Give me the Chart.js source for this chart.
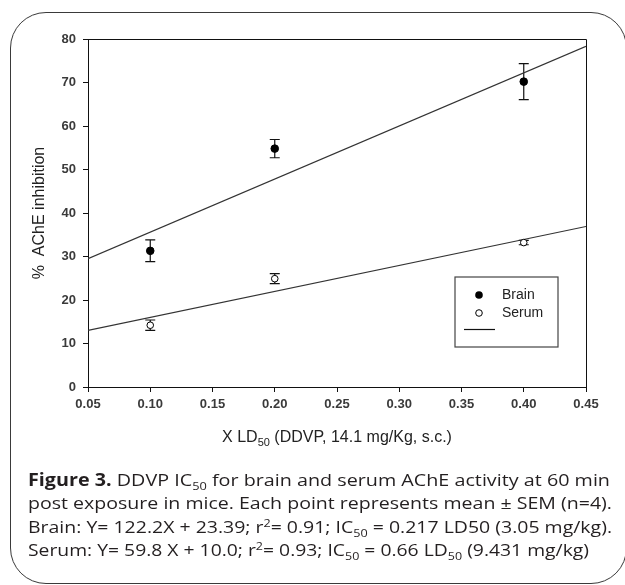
<!DOCTYPE html>
<html>
<head>
<meta charset="utf-8">
<script src="https://cdn.jsdelivr.net/npm/chart.js@4.4.1/dist/chart.umd.min.js"></script>
<style>
  html, body { margin: 0; padding: 0; background: #fff; overflow: hidden; }
  #wrap { position: relative; width: 625px; height: 585px; overflow: hidden; }
  #frame { position: absolute; left: 10px; top: 12px; width: 617px; height: 572px;
           border: 1.5px solid #3a3a3a; border-radius: 36px; box-sizing: border-box; }
  canvas { position: absolute; left: 0; top: 0; }
  .cap { position: absolute; left: 28px; font-family: "Open Sans", "Noto Sans", sans-serif;
         font-size: 17px; color: #231f20; white-space: nowrap; line-height: 20px;
         transform-origin: left center; }
  .cap b { font-weight: 700; }
  .cap sub { font-size: 11px; vertical-align: -4px; line-height: 0; }
  .cap sup { font-size: 11px; vertical-align: 6px; line-height: 0; }
</style>
</head>
<body>
<div id="wrap">
  <div id="frame"></div>
  <canvas id="c" width="625" height="585"></canvas>
  <div class="cap" id="l1" data-w="582" style="top:470px"><b>Figure 3.</b> DDVP IC<sub>50</sub> for brain and serum AChE activity at 60 min</div>
  <div class="cap" id="l2" data-w="584" style="top:493px">post exposure in mice. Each point represents mean ± SEM (n=4).</div>
  <div class="cap" id="l3" data-w="584" style="top:517px">Brain: Y= 122.2X + 23.39; r<sup>2</sup>= 0.91; IC<sub>50</sub> = 0.217 LD50 (3.05 mg/kg).</div>
  <div class="cap" id="l4" data-w="561" style="top:540px">Serum: Y= 59.8 X + 10.0; r<sup>2</sup>= 0.93; IC<sub>50</sub> = 0.66 LD<sub>50</sub> (9.431 mg/kg)</div>
</div>
<script>
// ---- data ----
const xTicks = [0.05, 0.10, 0.15, 0.20, 0.25, 0.30, 0.35, 0.40, 0.45];
const yTicks = [0, 10, 20, 30, 40, 50, 60, 70, 80];
const doses = [0.1, 0.2, 0.4];
const brainMean = [31.3, 54.8, 70.2];
const brainSem = [2.5, 2.1, 4.15];
const serumMean = [14.2, 24.9, 33.2];
const serumSem = [1.2, 1.15, 0.5];
const fitX = [0.05, 0.45];
const brainFit = [29.5, 78.3];
const serumFit = [13.0, 36.9];

const pts = (xs, ys) => xs.map((x, i) => ({ x: x, y: ys[i] }));

const errorBars = {
  id: 'errorBars',
  beforeDatasetsDraw(chart) {
    const ctx = chart.ctx, xs = chart.scales.x, ys = chart.scales.y;
    const sets = [[brainMean, brainSem], [serumMean, serumSem]];
    ctx.save();
    ctx.strokeStyle = '#111';
    ctx.lineWidth = 1.2;
    sets.forEach(([m, s]) => {
      doses.forEach((d, i) => {
        const px = xs.getPixelForValue(d);
        const top = ys.getPixelForValue(m[i] + s[i]);
        const bot = ys.getPixelForValue(m[i] - s[i]);
        ctx.beginPath();
        ctx.moveTo(px, top); ctx.lineTo(px, bot);
        ctx.moveTo(px - 5, top); ctx.lineTo(px + 5, top);
        ctx.moveTo(px - 5, bot); ctx.lineTo(px + 5, bot);
        ctx.stroke();
      });
    });
    ctx.restore();
  }
};

const decor = {
  id: 'decor',
  afterDraw(chart) {
    const ctx = chart.ctx, a = chart.chartArea;
    ctx.save();
    // top & right frame of plot area
    ctx.strokeStyle = '#111';
    ctx.lineWidth = 1;
    ctx.beginPath();
    ctx.moveTo(a.left, a.top + 0.5); ctx.lineTo(a.right + 0.5, a.top + 0.5); ctx.lineTo(a.right + 0.5, a.bottom);
    ctx.stroke();

    // y axis title
    ctx.fillStyle = '#222';
    ctx.font = '16px "Liberation Sans", Arial, sans-serif';
    ctx.textAlign = 'center';
    ctx.textBaseline = 'middle';
    ctx.save();
    ctx.translate(40, (a.top + a.bottom) / 2);
    ctx.rotate(-Math.PI / 2);
    ctx.fillText('%  AChE inhibition', 0, 0);
    ctx.restore();

    // x axis title with subscript
    const big = '16px "Liberation Sans", Arial, sans-serif';
    const small = '11px "Liberation Sans", Arial, sans-serif';
    const segs = [['X LD', big, 0], ['50', small, 5], [' (DDVP, 14.1 mg/Kg, s.c.)', big, 0]];
    let total = 0;
    segs.forEach(s => { ctx.font = s[1]; total += ctx.measureText(s[0]).width; });
    let x = (a.left + a.right) / 2 - total / 2;
    const y = 438;
    ctx.textAlign = 'left';
    segs.forEach(s => { ctx.font = s[1]; ctx.fillText(s[0], x, y + s[2]); x += ctx.measureText(s[0]).width; });

    // legend box
    ctx.strokeStyle = '#444';
    ctx.lineWidth = 1.2;
    ctx.strokeRect(455, 277, 103, 70);
    ctx.font = '14px "Liberation Sans", Arial, sans-serif';
    ctx.fillStyle = '#222';
    ctx.textBaseline = 'middle';
    // Brain
    ctx.beginPath(); ctx.arc(479, 295, 3.8, 0, Math.PI * 2); ctx.fillStyle = '#000'; ctx.fill();
    ctx.fillStyle = '#222'; ctx.fillText('Brain', 502, 295);
    // Serum
    ctx.beginPath(); ctx.arc(479, 313, 3.3, 0, Math.PI * 2); ctx.fillStyle = '#fff'; ctx.fill();
    ctx.strokeStyle = '#000'; ctx.lineWidth = 1; ctx.stroke();
    ctx.fillStyle = '#222'; ctx.fillText('Serum', 502, 313);
    // regression line sample
    ctx.strokeStyle = '#111'; ctx.lineWidth = 1.2;
    ctx.beginPath(); ctx.moveTo(464, 329.5); ctx.lineTo(495, 329.5); ctx.stroke();
    ctx.restore();
  }
};

const tickFont = { family: '"Liberation Sans", Arial, sans-serif', size: 13, weight: 'bold' };

new Chart(document.getElementById('c'), {
  type: 'scatter',
  data: {
    datasets: [
      { label: 'Brain', data: pts(doses, brainMean), showLine: false,
        pointRadius: 3.8, pointBackgroundColor: '#000', pointBorderColor: '#000', pointBorderWidth: 1 },
      { label: 'Serum', data: pts(doses, serumMean), showLine: false,
        pointRadius: 3.3, pointBackgroundColor: '#fff', pointBorderColor: '#000', pointBorderWidth: 1 },
      { label: 'Brain fit', data: pts(fitX, brainFit), showLine: true, pointRadius: 0,
        borderColor: '#333', borderWidth: 1.2, fill: false },
      { label: 'Serum fit', data: pts(fitX, serumFit), showLine: true, pointRadius: 0,
        borderColor: '#333', borderWidth: 1.2, fill: false }
    ]
  },
  options: {
    responsive: false,
    animation: false,
    devicePixelRatio: 1,
    layout: { padding: { left: 0, top: 39, right: 39, bottom: 168 } },
    plugins: { legend: { display: false }, tooltip: { enabled: false } },
    scales: {
      x: {
        type: 'linear', min: 0.05, max: 0.45,
        afterBuildTicks: s => { s.ticks = xTicks.map(v => ({ value: v })); },
        afterFit: s => { s.height = 30; },
        ticks: { callback: v => v.toFixed(2), color: '#3a3a3a', padding: 5, maxRotation: 0, autoSkip: false,
                 font: tickFont },
        grid: { drawOnChartArea: false, drawTicks: true, tickLength: 5, color: '#111' },
        border: { display: true, color: '#111', width: 1 }
      },
      y: {
        type: 'linear', min: 0, max: 80,
        afterBuildTicks: s => { s.ticks = yTicks.map(v => ({ value: v })); },
        afterFit: s => { s.width = 88; },
        ticks: { color: '#3a3a3a', padding: 7, autoSkip: false, font: tickFont },
        grid: { drawOnChartArea: false, drawTicks: true, tickLength: 5, color: '#111' },
        border: { display: true, color: '#111', width: 1 }
      }
    }
  },
  plugins: [errorBars, decor]
});

// fit caption lines to the reference widths
document.querySelectorAll('.cap').forEach(el => {
  const target = parseFloat(el.dataset.w);
  const w = el.getBoundingClientRect().width;
  if (w > 0) el.style.transform = 'scaleX(' + (target / w).toFixed(4) + ')';
});
</script>
</body>
</html>
